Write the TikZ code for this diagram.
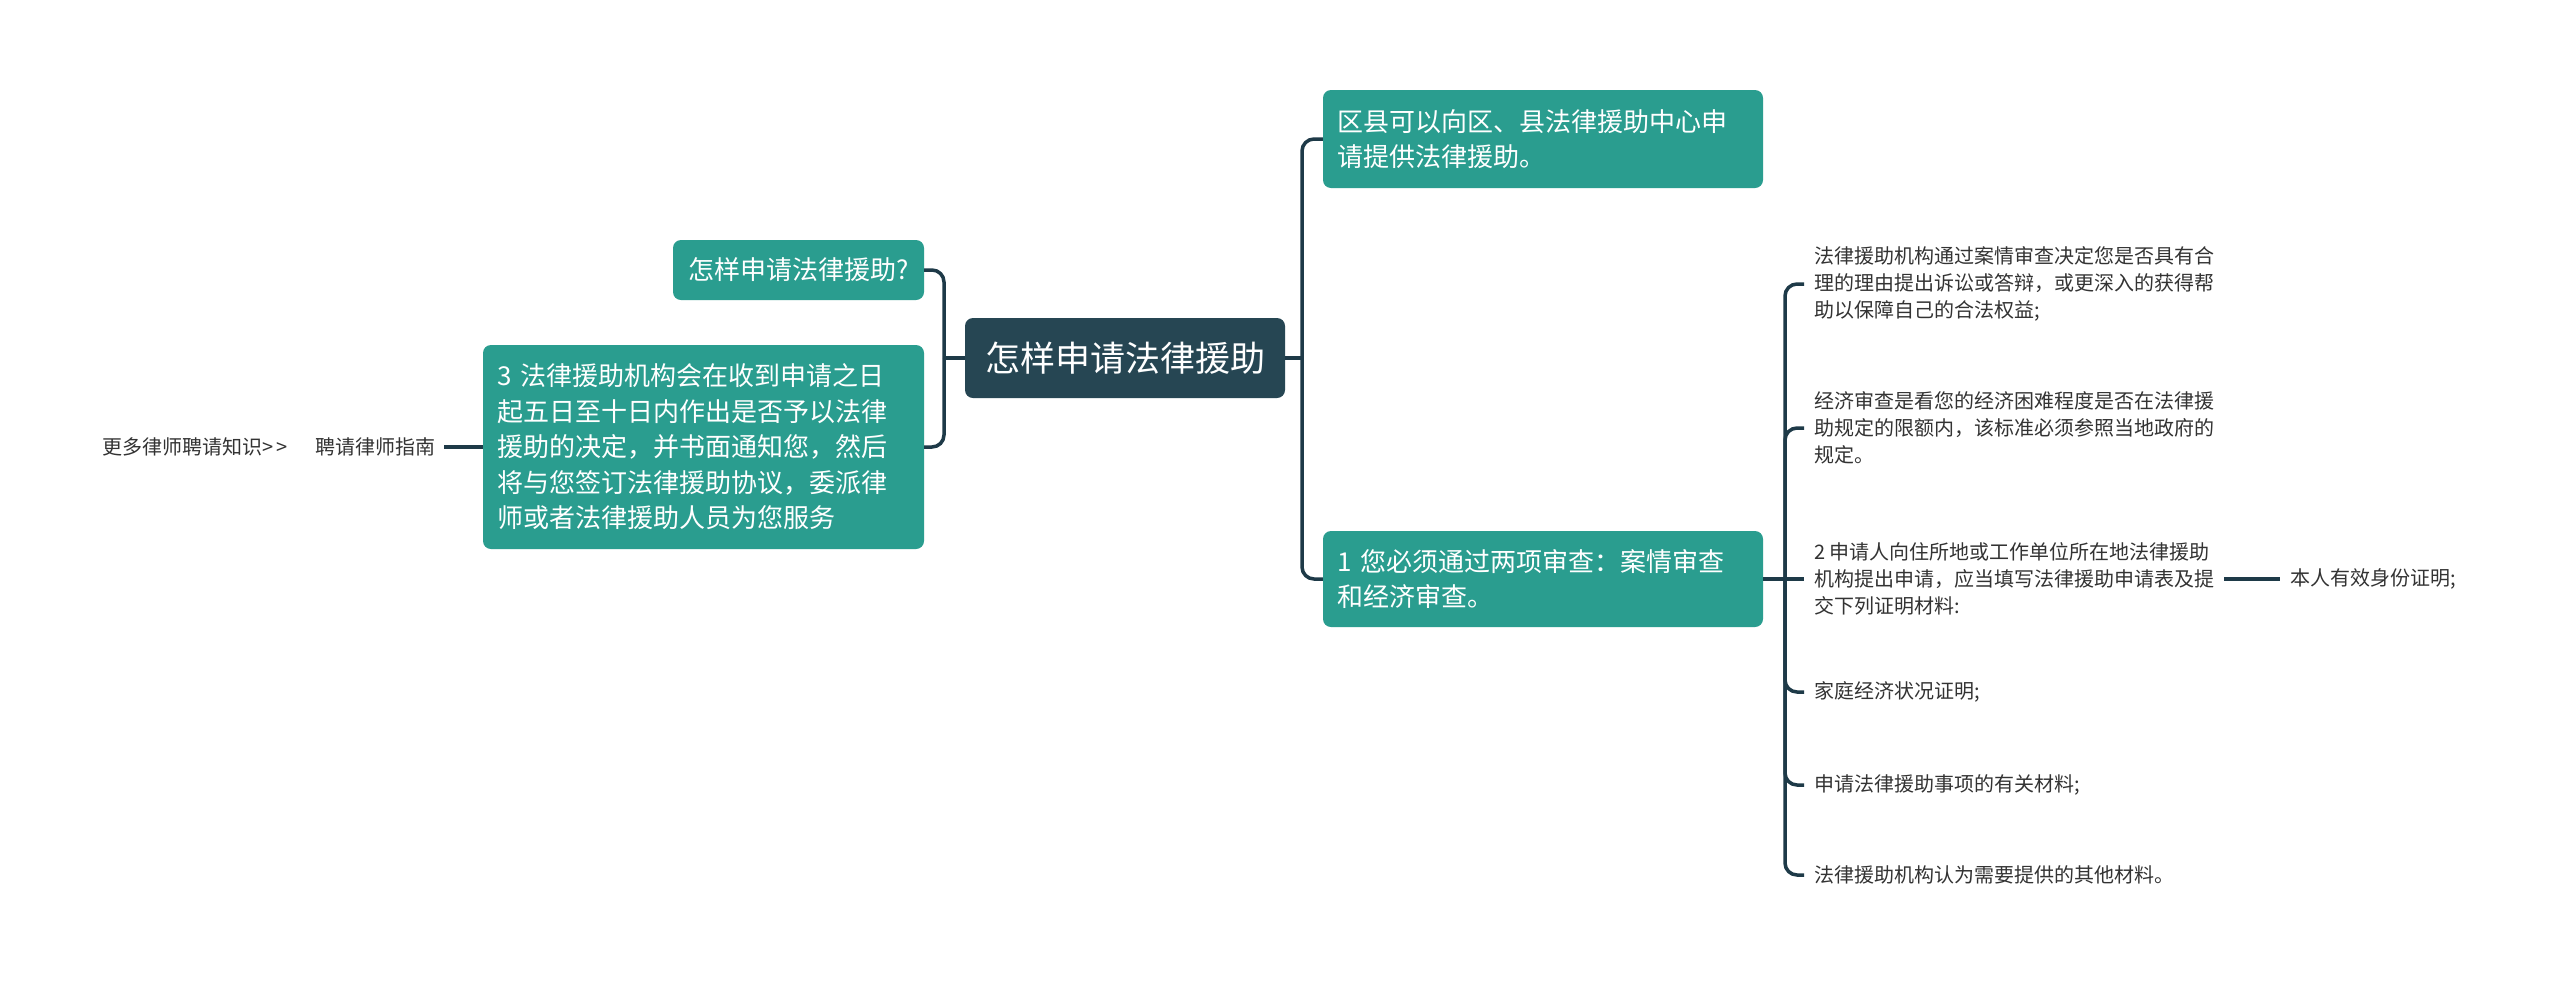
\documentclass[tikz,border=0pt]{standalone}
\usepackage{fontspec}
\setmainfont{Noto Sans CJK SC}
\definecolor{tealbox}{HTML}{2A9D8F}
\definecolor{navybox}{HTML}{264653}
\definecolor{linecol}{HTML}{1E3A48}
\definecolor{leaftext}{HTML}{333333}
\tikzset{
 conn/.style={draw=linecol, line width=3.5pt, rounded corners=12pt},
 tbox/.style={fill=tealbox, rounded corners=8pt, text=white, inner xsep=14pt, inner ysep=0pt, align=left, font=\fontsize{26}{35.5}\selectfont},
 leaf/.style={text=leaftext, inner xsep=10pt, inner ysep=2pt, align=left, font=\fontsize{20}{27}\selectfont, anchor=west},
}
\begin{document}
\begin{tikzpicture}[x=1pt,y=-1pt]
\useasboundingbox[fill=white] (0,0) rectangle (2560,989);
% central
\node[fill=navybox, rounded corners=8pt, text=white, minimum width=320pt, minimum height=80pt, inner sep=0pt, font=\fontsize{35}{40}\selectfont] (c) at (1125,358) {怎样申请法律援助};
% left
\node[tbox, minimum width=251pt, minimum height=60pt, align=center] (q) at (798.5,270) {怎样申请法律援助?};
\node[tbox, text width=413pt, minimum height=204pt] (n3) at (703.5,447) {3~法律援助机构会在收到申请之日\\起五日至十日内作出是否予以法律\\援助的决定，并书面通知您，然后\\将与您签订法律援助协议，委派律\\师或者法律援助人员为您服务};
\node[leaf, anchor=east, inner xsep=8pt] (g) at (444,447) {聘请律师指南};
\node[leaf] (more) at (92,447) {更多律师聘请知识{>}\,{>}};
% right
\node[tbox, text width=412pt, minimum height=98pt] (r1) at (1543,139) {区县可以向区、县法律援助中心申\\请提供法律援助。};
\node[tbox, text width=412pt, minimum height=96pt] (r2) at (1543,579) {1~您必须通过两项审查：案情审查\\和经济审查。};
% leaves
\node[leaf] (l1) at (1804,284) {法律援助机构通过案情审查决定您是否具有合\\理的理由提出诉讼或答辩，或更深入的获得帮\\助以保障自己的合法权益;};
\node[leaf] (l2) at (1804,428) {经济审查是看您的经济困难程度是否在法律援\\助规定的限额内，该标准必须参照当地政府的\\规定。};
\node[leaf] (l3) at (1804,579) {2~申请人向住所地或工作单位所在地法律援助\\机构提出申请，应当填写法律援助申请表及提\\交下列证明材料:};
\node[leaf] (l4) at (1804,692) {家庭经济状况证明;};
\node[leaf] (l5) at (1804,785) {申请法律援助事项的有关材料;};
\node[leaf] (l6) at (1804,875) {法律援助机构认为需要提供的其他材料。};
\node[leaf] (l7) at (2280,579) {本人有效身份证明;};
% junctions
\coordinate (jL) at (944,358);
\coordinate (jR) at (1302,358);
\coordinate (jB) at (1785,579);
% connectors
\draw[conn] (c.west) -- (jL);
\draw[conn] (jL) |- (q.east);
\draw[conn] (jL) |- (n3.east);
\draw[conn] (n3.west) -- (g.east);
\draw[conn] (c.east) -- (jR);
\draw[conn] (jR) |- (r1.west);
\draw[conn] (jR) |- (r2.west);
\draw[conn] (r2.east) -- (jB);
\draw[conn] (jB) |- (l1.west);
\draw[conn] (jB) |- (l2.west);
\draw[conn] (jB) -- (l3.west);
\draw[conn] (jB) |- (l4.west);
\draw[conn] (jB) |- (l5.west);
\draw[conn] (jB) |- (l6.west);
\draw[conn] (l3.east) -- (l7.west);
\end{tikzpicture}
\end{document}
